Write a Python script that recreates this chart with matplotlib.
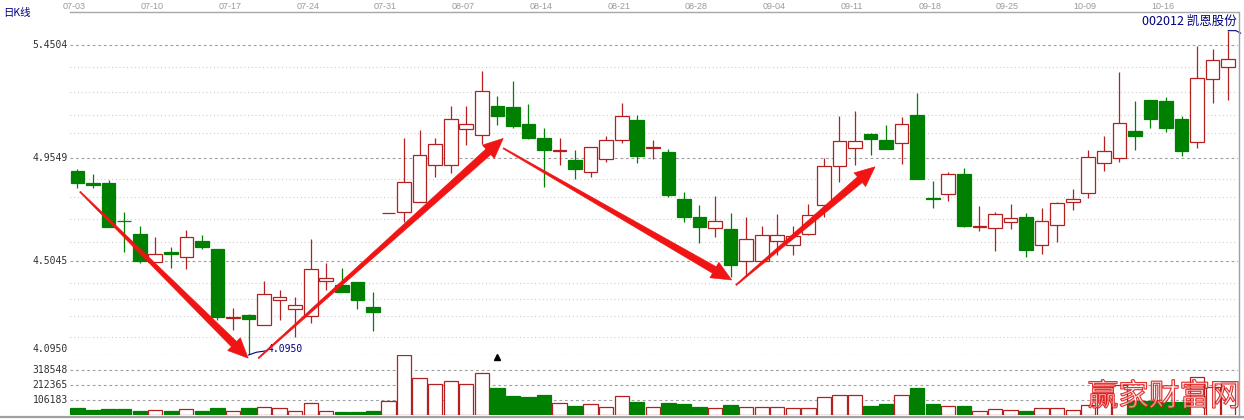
import matplotlib
matplotlib.use('Agg')
import matplotlib.pyplot as plt
import matplotlib.patheffects as pe
import numpy as np
from matplotlib.patches import Rectangle, Polygon
from matplotlib.transforms import IdentityTransform, blended_transform_factory

# ---------------- data ----------------
tick_labels = ['07-03', '07-10', '07-17', '07-24', '07-31', '08-07', '08-14', '08-21',
               '08-28', '09-04', '09-11', '09-18', '09-25', '10-09', '10-16']
tick_index = [0, 5, 10, 15, 20, 25, 30, 35, 40, 45, 50, 55, 60, 65, 70]

opens = [4.899, 4.848, 4.848, 4.683, 4.624, 4.500, 4.547, 4.522, 4.593, 4.558,
         4.256, 4.270, 4.226, 4.335, 4.296, 4.266, 4.420, 4.401, 4.413, 4.305,
         4.716, 4.719, 4.765, 4.926, 4.924, 5.082, 5.055, 5.184, 5.179, 5.105,
         5.042, 4.989, 4.948, 4.894, 4.951, 5.035, 5.122, 5.001, 4.983, 4.776,
         4.698, 4.649, 4.645, 4.505, 4.505, 4.595, 4.575, 4.624, 4.749, 4.920,
         4.999, 5.061, 5.035, 5.021, 5.144, 4.782, 4.798, 4.886, 4.654, 4.649,
         4.675, 4.697, 4.575, 4.662, 4.765, 4.802, 4.933, 4.955, 5.074, 5.210,
         5.205, 5.127, 5.028, 5.300, 5.353]
closes = [4.846, 4.837, 4.656, 4.680, 4.506, 4.535, 4.538, 4.612, 4.568, 4.260,
          4.259, 4.251, 4.360, 4.350, 4.314, 4.471, 4.430, 4.372, 4.337, 4.284,
          4.716, 4.853, 4.969, 5.016, 5.126, 5.104, 5.249, 5.141, 5.098, 5.045,
          4.991, 4.992, 4.907, 5.006, 5.035, 5.140, 4.966, 5.004, 4.795, 4.700,
          4.656, 4.682, 4.490, 4.601, 4.620, 4.620, 4.617, 4.707, 4.921, 5.029,
          5.031, 5.038, 4.994, 5.104, 4.863, 4.779, 4.885, 4.660, 4.657, 4.710,
          4.695, 4.555, 4.680, 4.758, 4.778, 4.962, 4.988, 5.108, 5.054, 5.128,
          5.089, 4.988, 5.305, 5.383, 5.388]
highs = [4.908, 4.886, 4.860, 4.722, 4.659, 4.610, 4.568, 4.642, 4.620, 4.558,
         4.299, 4.274, 4.419, 4.379, 4.350, 4.601, 4.499, 4.474, 4.413, 4.369,
         4.716, 5.044, 5.079, 5.044, 5.184, 5.184, 5.337, 5.227, 5.293, 5.192,
         5.086, 5.042, 4.991, 5.006, 5.052, 5.198, 5.144, 5.035, 4.996, 4.809,
         4.751, 4.790, 4.715, 4.700, 4.659, 4.711, 4.659, 4.755, 4.955, 5.140,
         5.163, 5.067, 5.101, 5.134, 5.242, 4.856, 4.896, 4.914, 4.748, 4.722,
         4.755, 4.715, 4.739, 4.765, 4.819, 4.991, 5.052, 5.331, 5.205, 5.210,
         5.222, 5.140, 5.446, 5.432, 5.513]
lows = [4.826, 4.824, 4.656, 4.547, 4.499, 4.500, 4.474, 4.470, 4.560, 4.248,
        4.204, 4.095, 4.226, 4.248, 4.175, 4.234, 4.379, 4.372, 4.295, 4.201,
        4.716, 4.678, 4.765, 4.872, 4.892, 5.013, 5.017, 5.101, 5.089, 5.038,
        4.831, 4.926, 4.864, 4.872, 4.940, 5.021, 4.933, 4.951, 4.787, 4.678,
        4.583, 4.612, 4.437, 4.440, 4.505, 4.532, 4.532, 4.620, 4.700, 4.853,
        4.926, 4.969, 4.994, 4.930, 4.863, 4.736, 4.768, 4.656, 4.638, 4.550,
        4.646, 4.522, 4.535, 4.590, 4.729, 4.783, 4.901, 4.940, 4.991, 5.089,
        5.071, 4.965, 5.001, 5.198, 5.210]
volumes = [51700, 35400, 42500, 42500, 28300, 35400, 28300, 40350, 28300, 51700,
           26200, 51700, 56600, 47400, 26200, 84900, 26200, 19100, 19100, 28300,
           99100, 424700, 259800, 221600, 240700, 217300, 295200, 191100, 134500, 127400,
           141600, 82800, 63700, 75700, 54500, 132400, 92000, 54500, 84900, 77900,
           56600, 47400, 70800, 56600, 56600, 56600, 47400, 47400, 125300, 139500,
           139500, 63700, 77900, 139500, 191100, 77900, 61600, 63700, 26200, 40350,
           33300, 26200, 47400, 47400, 33300, 68700, 106200, 210200, 101200, 101200,
           92000, 92000, 266900, 198200, 233600]

price_levels = [5.4504, 4.9549, 4.5045, 4.0950]
price_level_labels = ['5.4504', '4.9549', '4.5045', '4.0950']
dotted_levels = [5.355, 5.247, 5.146, 5.066, 4.864, 4.786, 4.688, 4.587,
                 4.410, 4.340, 4.267, 4.175]
volume_levels = [318548, 212365, 106183]
volume_level_labels = ['318548', '212365', '106183']
vol_top = 424732

title_text = '002012 凯恩股份'
period_text = '日K线'
min_text = '4.0950'
watermark = '赢家财富网'

# trend arrows (start, end) in (day index, price)
arrows = [((0.16, 4.809), (10.98, 4.081)),
          ((11.63, 4.081), (27.38, 5.042)),
          ((27.38, 4.999), (42.07, 4.423)),
          ((42.35, 4.401), (51.29, 4.918))]

# ---------------- layout ----------------
W, H = 1244, 420
fig = plt.figure(figsize=(W / 100, H / 100), dpi=100)
fig.patch.set_facecolor('white')


def fx(px):
    return px / W


def fy(py):
    return 1 - py / H


L_PX, R_PX = 70, 1238
TOP_PX, MID_PX, BOT_PX = 12.3, 355, 415

axp = fig.add_axes([fx(L_PX), fy(MID_PX), fx(R_PX) - fx(L_PX), fy(TOP_PX) - fy(MID_PX)])
axv = fig.add_axes([fx(L_PX), fy(BOT_PX), fx(R_PX) - fx(L_PX), fy(MID_PX) - fy(BOT_PX)])
for ax in (axp, axv):
    ax.set_axis_off()
    ax.set_xlim(-0.482, 74.63)
axp.set_ylim(4.095, 5.5933)
axv.set_ylim(0, vol_top)

RED = '#b42020'
GREEN = '#008000'
NAVY = '#000080'
GRID = '#a0a0a0'
MONO = 'DejaVu Sans Mono'

# grid lines
for lv in price_levels:
    axp.axhline(lv, color=GRID, lw=0.8, dashes=(2.5, 2.5), zorder=1)
for lv in dotted_levels:
    axp.axhline(lv, color='#c4c4c4', lw=0.8, dashes=(0.8, 2.6), zorder=1)
for lv in volume_levels:
    axv.axhline(lv, color=GRID, lw=0.8, dashes=(2.5, 2.5), zorder=1)

# candles
n = len(opens)
bw = 0.88
for i in range(n):
    o, h, l, c = opens[i], highs[i], lows[i], closes[i]
    up = c >= o
    top, bot = max(o, c), min(o, c)
    if up:
        axp.vlines(i, top, h, color=RED, lw=0.9, zorder=3)
        axp.vlines(i, l, bot, color=RED, lw=0.9, zorder=3)
        axp.add_patch(Rectangle((i - bw / 2, bot), bw, top - bot, facecolor='white',
                                edgecolor=RED, lw=0.9, zorder=4))
    else:
        axp.vlines(i, l, h, color=GREEN, lw=0.9, zorder=3)
        axp.add_patch(Rectangle((i - bw / 2, bot), bw, top - bot, facecolor=GREEN,
                                edgecolor=GREEN, lw=0.9, zorder=4))

# volume bars
vx = np.arange(n)
up_mask = [closes[i] >= opens[i] for i in range(n)]
axv.bar(vx, volumes, width=0.92,
        color=['white' if u else GREEN for u in up_mask],
        edgecolor=[RED if u else GREEN for u in up_mask], linewidth=0.9, zorder=3)

# frame lines
fig.add_artist(plt.Line2D([fx(L_PX), fx(R_PX)], [fy(TOP_PX), fy(TOP_PX)], color='#a8a8a8', lw=1))
fig.add_artist(plt.Line2D([fx(R_PX + 0.5), fx(R_PX + 0.5)], [fy(TOP_PX), fy(417)], color='#a0a0a0', lw=1))
fig.add_artist(plt.Line2D([0, 1], [fy(416.5), fy(416.5)], color='#a0a0a0', lw=1.6))

# axis labels
bp = blended_transform_factory(axp.transAxes, axp.transData)
for lv, lab in zip(price_levels, price_level_labels):
    dy = 4.5 if lv == min(price_levels) else 0
    axp.annotate(lab, xy=(0, lv), xycoords=bp, xytext=(-1.5, dy), textcoords='offset points',
                 ha='right', va='center', fontsize=7, family=MONO, color='#303030',
                 annotation_clip=False)
bv = blended_transform_factory(axv.transAxes, axv.transData)
for lv, lab in zip(volume_levels, volume_level_labels):
    axv.annotate(lab, xy=(0, lv), xycoords=bv, xytext=(-1.5, 0), textcoords='offset points',
                 ha='right', va='center', fontsize=7, family=MONO, color='#303030',
                 annotation_clip=False)

bt = blended_transform_factory(axp.transData, axp.transAxes)
for idx, lab in zip(tick_index, tick_labels):
    axp.text(idx - 0.2, 1.0175, lab, transform=bt, ha='center', va='center',
             fontsize=6.5, family='Liberation Sans', color='#9a9a9a', clip_on=False)

fig.text(fx(3), fy(12.8), period_text, ha='left', va='center', fontsize=7.5,
         family=['Noto Sans CJK SC', 'DejaVu Sans'], color=NAVY)
fig.text(fx(1237), fy(21), title_text, ha='right', va='center', fontsize=9,
         family=['Noto Sans CJK SC', 'DejaVu Sans'], color=NAVY)

# min price annotation
i_min = int(np.argmin(lows))
axp.plot([i_min, i_min + 0.5, i_min + 1.2], [lows[i_min], lows[i_min] + 0.012, lows[i_min] + 0.019],
         color=NAVY, lw=0.8, zorder=6, clip_on=False)
axp.text(i_min + 1.25, lows[i_min] + 0.026, min_text, ha='left', va='center', fontsize=7,
         family=MONO, color=NAVY, zorder=6)

# max price annotation stub
i_max = int(np.argmax(highs))
axp.plot([i_max, i_max + 0.5, i_max + 0.8], [highs[i_max], highs[i_max], highs[i_max] - 0.011],
         color=NAVY, lw=0.8, zorder=6, clip_on=False)

# small black marker
axv.plot([27], [vol_top * 0.972], marker='^', color='black', markersize=4, clip_on=False, zorder=6)


# tapered trend arrows
def tapered_arrow(ax, p0, p1, w0=1.2, w1=7.5, hw=18.0, hl=20.0, color='#f01414'):
    a = ax.transData.transform(p0)
    b = ax.transData.transform(p1)
    d = b - a
    length = np.hypot(*d)
    u = d / length
    nrm = np.array([-u[1], u[0]])
    neck = b - u * hl
    pts = [a + nrm * w0 / 2, neck + nrm * w1 / 2, neck + nrm * hw / 2, b,
           neck - nrm * hw / 2, neck - nrm * w1 / 2, a - nrm * w0 / 2]
    poly = Polygon(pts, closed=True, transform=IdentityTransform(), facecolor=color,
                   edgecolor=color, lw=0.4, zorder=10)
    fig.add_artist(poly)


for p0, p1 in arrows:
    tapered_arrow(axp, p0, p1)

# watermark (thin outlined red script)
fig.text(fx(1164), fy(397), watermark, ha='center', va='center', fontsize=22,
         family=['Noto Sans CJK SC', 'DejaVu Sans'], color=(1, 1, 1, 0.35),
         zorder=20, path_effects=[pe.Stroke(linewidth=0.9, foreground='#e01010'),
                                  pe.Normal()])

fig.savefig('out.png', dpi=100, facecolor='white')
